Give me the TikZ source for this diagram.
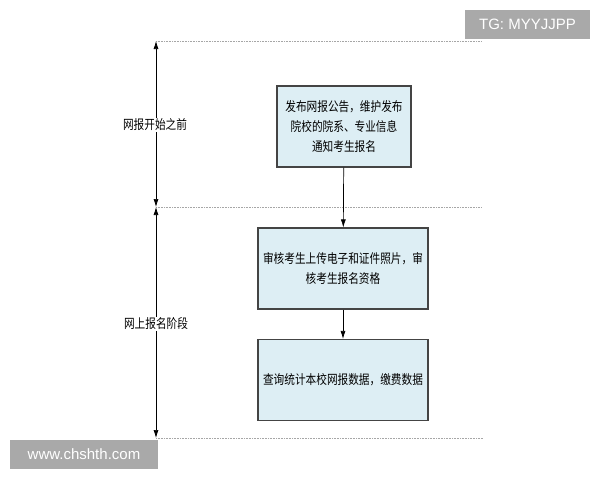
\documentclass[tikz,border=0pt]{standalone}
\usepackage{fontspec}
\usepackage{tikz}
\usetikzlibrary{arrows.meta}
\newfontfamily\cjk[FakeStretch=0.82]{Noto Sans CJK SC}
\newfontfamily\wmfont{Liberation Sans}
\definecolor{boxfill}{HTML}{DDEEF4}
\definecolor{boxline}{HTML}{444444}
\definecolor{wmgray}{HTML}{A9A9A9}

\begin{document}
\begin{tikzpicture}[x=1pt, y=-1pt,
  stepbox/.style={draw=boxline, line width=1.1pt, fill=boxfill, align=center, inner sep=0pt, font=\cjk\fontsize{13}{20}\selectfont},
  phaselabel/.style={fill=white, inner sep=1pt, font=\cjk\fontsize{13}{20}\selectfont},
  divider/.style={draw=gray!70, line width=0.9pt, dash pattern=on 1pt off 0.6pt},
  flow/.style={-{Latex[length=8pt,width=5pt]}, line width=0.7pt},
  span/.style={{Latex[length=8pt,width=5pt]}-{Latex[length=8pt,width=5pt]}, line width=0.7pt},
  wmark/.style={fill=wmgray, text=white, inner sep=0pt, font=\wmfont\fontsize{15}{15}\selectfont}]
\useasboundingbox (0, 0) rectangle (600, 480);
% phase dividers
\coordinate (top west) at (156, 41);
\coordinate (top east) at (482, 41);
\coordinate (mid west) at (156, 207);
\coordinate (mid east) at (482, 207);
\coordinate (bot west) at (156, 438);
\coordinate (bot east) at (483, 438);
\draw [divider] (top west) -- (top east);
\draw [divider] (mid west) -- (mid east);
\draw [divider] (bot west) -- (bot east);
\draw [span] (top west) -- (mid west);
\draw [span] (mid west) -- (bot west);
\node [phaselabel] (before) at (155, 125) {网报开始之前};
\node [phaselabel] (online) at (156, 324) {网上报名阶段};
% steps
\node [stepbox, minimum width=134, minimum height=81] (publish) at (344, 126.5) {发布网报公告，维护发布\\院校的院系、专业信息\\通知考生报名};
\node [stepbox, minimum width=170, minimum height=81] (review) at (343, 268.5) {审核考生上传电子和证件照片，审\\核考生报名资格};
\node [stepbox, minimum width=170, minimum height=81] (query) at (343, 380) {查询统计本校网报数据，缴费数据};
\draw [flow] (publish) -- (review);
\draw [flow] (review) -- (query);
% watermarks
\node [wmark, minimum width=125, minimum height=29] (tg) at (527.5, 24.5) {TG: MYYJJPP};
\node [wmark, minimum width=148, minimum height=29] (site) at (84, 454.5) {www.chshth.com};
\end{tikzpicture}
\end{document}
